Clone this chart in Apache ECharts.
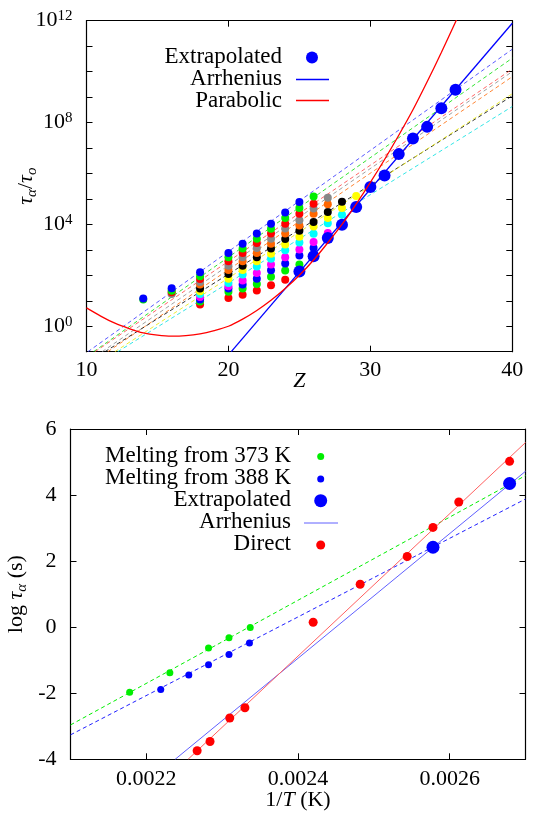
<!DOCTYPE html>
<html><head><meta charset="utf-8">
<script src="https://cdn.jsdelivr.net/npm/echarts@6/dist/echarts.min.js"></script>
<style>html,body{margin:0;padding:0;background:#fff}#c{width:535px;height:814px}</style>
</head><body><div id="c"></div>
<script>
// ===== Top panel: log10(tau_alpha/tau_o) versus Z =====
const ptsBlue    = [[14,1.09],[16,1.49],[18,2.12],[20,2.88],[21,3.24],[22,3.64],[23,4.03],[24,4.47],[25,4.88]];
const ptsGreen   = [[14,1.05],[16,1.39],[18,1.96],[20,2.71],[21,3.05],[22,3.44],[23,3.83],[24,4.25],[25,4.64],[26,5.10]];
const ptsRed     = [[16,1.33],[18,1.86],[20,2.55],[21,2.88],[22,3.27],[23,3.64],[24,4.03],[25,4.42],[26,4.81]];
const ptsGray    = [[16,1.27],[18,1.74],[20,2.38],[21,2.71],[22,3.07],[23,3.44],[24,3.84],[25,4.16],[26,4.62],[27,5.05]];
const ptsOrange  = [[18,1.64],[20,2.21],[21,2.55],[22,2.88],[23,3.24],[24,3.64],[25,3.96],[26,4.42],[27,4.79]];
const ptsBlack   = [[18,1.48],[20,2.05],[21,2.38],[22,2.71],[23,3.05],[24,3.43],[25,3.75],[26,4.09],[27,4.49],[28,4.89]];
const ptsYellow  = [[18,1.37],[20,1.87],[21,2.21],[22,2.55],[23,2.85],[24,3.21],[25,3.51],[26,3.92],[27,4.25],[28,4.64],[29,5.12]];
const ptsCyan    = [[18,1.27],[20,1.70],[21,2.03],[22,2.35],[23,2.65],[24,2.98],[25,3.29],[26,3.63],[27,4.04],[28,4.38]];
const ptsMagenta = [[18,1.15],[20,1.57],[21,1.80],[22,2.09],[23,2.42],[24,2.71],[25,3.01],[26,3.31],[27,3.66]];
const ptsBlue2   = [[18,1.05],[20,1.48],[21,1.64],[22,1.87],[23,2.20],[24,2.46],[25,2.78],[26,3.07]];
const ptsGreen2  = [[18,0.97],[20,1.35],[21,1.48],[22,1.66],[23,1.94],[24,2.19],[25,2.42]];
const ptsRed2    = [[18,0.85],[20,1.11],[21,1.24],[22,1.40],[23,1.61],[24,1.83]];

// dashed fit lines (read endpoints)
const fitBlue   = [[10.1,-1],[40,10.88]];
const fitGreen  = [[10.5,-1],[40,10.53]];
const fitRed    = [[10.6,-1],[40,10.10]];
const fitGray   = [[11.1,-1],[40,10.00]];
const fitOrange = [[11.5,-1],[40,9.80]];
const fitBlack  = [[11.3,-1],[40,9.05]];
const fitYellow = [[12.0,-1],[40,9.13]];
const fitCyan   = [[12.2,-1],[40,8.63]];

const extrapTop = [[25,2.15],[26,2.75],[27,3.47],[28,3.99],[29,4.68],[30,5.47],[31,5.92],[32,6.76],[33,7.37],[34,7.83],[35,8.56],[36,9.29]];
const arrhTop = [[20.2,-1],[40,11.9]];
const parabolicTop = [[10,0.72],[11,0.40],[12,0.12],[13,-0.09],[14,-0.26],[15,-0.35],[16,-0.39],[17,-0.37],[18,-0.30],[19,-0.17],[20,0.0],[21,0.28],[22,0.62],[23,1.02],[24,1.48],[25,2.0],[26,2.6],[27,3.28],[28,4.0],[29,4.8],[30,5.65],[31,6.55],[32,7.5],[33,8.5],[34,9.6],[35,10.75],[36,11.95],[36.5,12.55]];

const topXTicks = [10,20,30,40];
const topYLabelExps = [0,4,8,12];

// ===== Bottom panel: log tau_alpha versus 1/T =====
const melt373 = [[0.002178,-1.97],[0.002231,-1.38],[0.002282,-0.63],[0.002309,-0.32],[0.002337,-0.01]];
const melt388 = [[0.002219,-1.89],[0.002256,-1.45],[0.002282,-1.14],[0.002309,-0.83],[0.002336,-0.48]];
const direct  = [[0.002267,-3.74],[0.002284,-3.46],[0.002310,-2.75],[0.002330,-2.44],[0.002420,0.15],[0.002482,1.30],[0.002544,2.14],[0.002578,3.02],[0.002612,3.79],[0.002679,5.02]];
const extrapBottom = [[0.002578,2.42],[0.002679,4.35]];
const fit373 = [[0.0021,-2.96],[0.0027,4.59]];
const fit388 = [[0.0021,-3.26],[0.0027,3.88]];
const arrhBottom = [[0.002238,-4],[0.0027,4.72]];
const directFit = [[0.002255,-4],[0.0027,5.59]];

const bottomXTicks = [0.0022,0.0024,0.0026];
const bottomYTicks = [-4,-2,0,2,4,6];

// ===== styling =====
const FONT = '"Liberation Serif", "Times New Roman", serif';
const FS = 22;
const LFS = 23;
const richBase = {
  i:{fontFamily:FONT,fontStyle:'italic',fontSize:FS,lineHeight:26,color:'#000'},
  n:{fontFamily:FONT,fontSize:FS,lineHeight:26,color:'#000'},
  sub:{fontFamily:FONT,fontStyle:'italic',fontSize:15,lineHeight:14,verticalAlign:'bottom',color:'#000'}
};

const topPts = [
  [ptsRed2,'#ff0000'],[ptsGreen2,'#00ee00'],[ptsBlue2,'#0000ff'],[ptsMagenta,'#ff00ff'],
  [ptsCyan,'#00ffff'],[ptsYellow,'#ffff00'],[ptsBlack,'#000000'],[ptsOrange,'#ff6600'],
  [ptsGray,'#888888'],[ptsRed,'#ff0000'],[ptsGreen,'#00ee00'],[ptsBlue,'#0000ff']
];
const topFits = [
  [fitBlue,'#3030ff'],[fitGreen,'#00dd00'],[fitRed,'#ff4040'],[fitGray,'#888888'],
  [fitOrange,'#ff6600'],[fitBlack,'#000000'],[fitYellow,'#e8e800'],[fitCyan,'#00e0e0']
];

const axisLine = {show:true,onZero:false,lineStyle:{color:'#000',width:1.2}};
const tick = {show:true,inside:true,length:6,lineStyle:{color:'#000',width:1}};

const series = [];
topFits.forEach(([d,c])=>series.push({type:'line',xAxisIndex:0,yAxisIndex:0,data:d,symbol:'none',z:1,
  lineStyle:{color:c,width:1,type:[4,3],opacity:0.8}}));
topPts.forEach(([d,c])=>series.push({type:'scatter',xAxisIndex:0,yAxisIndex:0,data:d,symbol:'circle',symbolSize:8,z:2,
  itemStyle:{color:c,opacity:1}}));
series.push({type:'scatter',xAxisIndex:0,yAxisIndex:0,data:extrapTop,symbol:'circle',symbolSize:12,z:3,itemStyle:{color:'#0000ff',opacity:1}});
series.push({type:'line',xAxisIndex:0,yAxisIndex:0,data:arrhTop,symbol:'none',z:4,lineStyle:{color:'#0000ff',width:1.3}});
series.push({type:'line',xAxisIndex:0,yAxisIndex:0,data:parabolicTop,symbol:'none',smooth:0.3,z:4,lineStyle:{color:'#ff0000',width:1.3}});

series.push({type:'line',xAxisIndex:2,yAxisIndex:2,data:fit373,symbol:'none',z:1,lineStyle:{color:'#00ee00',width:1,type:[4,3]}});
series.push({type:'line',xAxisIndex:2,yAxisIndex:2,data:fit388,symbol:'none',z:1,lineStyle:{color:'#2020ff',width:1,type:[4,3]}});
series.push({type:'line',xAxisIndex:2,yAxisIndex:2,data:arrhBottom,symbol:'none',z:1,lineStyle:{color:'#6060ff',width:1}});
series.push({type:'line',xAxisIndex:2,yAxisIndex:2,data:directFit,symbol:'none',z:1,lineStyle:{color:'#ff6060',width:1}});
series.push({type:'scatter',xAxisIndex:2,yAxisIndex:2,data:melt373,symbol:'circle',symbolSize:7,z:2,itemStyle:{color:'#00ee00',opacity:1}});
series.push({type:'scatter',xAxisIndex:2,yAxisIndex:2,data:melt388,symbol:'circle',symbolSize:7,z:2,itemStyle:{color:'#0000ff',opacity:1}});
series.push({type:'scatter',xAxisIndex:2,yAxisIndex:2,data:direct,symbol:'circle',symbolSize:9,z:2,itemStyle:{color:'#ff0000',opacity:1}});
series.push({type:'scatter',xAxisIndex:2,yAxisIndex:2,data:extrapBottom,symbol:'circle',symbolSize:13,z:3,itemStyle:{color:'#0000ff',opacity:1}});

const labelStyle = {color:'#000',fontFamily:FONT,fontSize:FS};
const legendText = (t,x,y)=>({type:'text',style:{text:t,x:x,y:y,font:LFS+'px '+FONT,fill:'#000',textAlign:'right',textVerticalAlign:'middle'}});
const common = {type:'value',nameMoveOverlap:false,splitLine:{show:false},axisLine};

const option = {
  animation:false,
  backgroundColor:'#fff',
  grid:[
    {left:86.5,top:20.7,width:425.8,height:331,containLabel:false,outerBoundsMode:'none'},
    {left:70.5,top:429,width:455,height:330.3,containLabel:false,outerBoundsMode:'none'}
  ],
  xAxis:[
    {...common,gridIndex:0,min:10,max:40,interval:10,position:'bottom',axisTick:tick,
      axisLabel:{...labelStyle,margin:8,customValues:topXTicks},
      name:'{i|Z}',nameLocation:'middle',nameGap:17,nameTextStyle:{rich:richBase}},
    {...common,gridIndex:0,min:10,max:40,interval:10,position:'top',axisTick:tick,axisLabel:{show:false}},
    {...common,gridIndex:1,min:0.0021,max:0.0027,interval:0.0001,position:'bottom',
      axisTick:{...tick,customValues:bottomXTicks},
      axisLabel:{...labelStyle,margin:9,customValues:bottomXTicks,formatter:v=>v.toFixed(4)},
      name:'{n|1/}{i|T}{n| (K)}',nameLocation:'middle',nameGap:28,nameTextStyle:{rich:richBase}},
    {...common,gridIndex:1,min:0.0021,max:0.0027,interval:0.0001,position:'top',
      axisTick:{...tick,customValues:bottomXTicks},axisLabel:{show:false}}
  ],
  yAxis:[
    {...common,gridIndex:0,min:-1,max:12,interval:1,position:'left',axisTick:tick,
      axisLabel:{...labelStyle,margin:14,lineHeight:24,customValues:topYLabelExps,
        formatter:v=>'10{s|'+v+'}',
        rich:{s:{fontFamily:FONT,fontSize:15,lineHeight:12,verticalAlign:'top',color:'#000'}}},
      name:'{i|τ}{sub|α}{n|/}{i|τ}{sub|o}',nameLocation:'middle',nameGap:47,nameTextStyle:{rich:richBase}},
    {...common,gridIndex:0,min:-1,max:12,interval:1,position:'right',axisTick:tick,axisLabel:{show:false}},
    {...common,gridIndex:1,min:-4,max:6,interval:2,position:'left',axisTick:tick,
      axisLabel:{...labelStyle,margin:14,customValues:bottomYTicks},
      name:'{n|log }{i|τ}{sub|α}{n| (s)}',nameLocation:'middle',nameGap:41,nameTextStyle:{rich:richBase}},
    {...common,gridIndex:1,min:-4,max:6,interval:2,position:'right',axisTick:tick,axisLabel:{show:false}}
  ],
  series,
  graphic:[
    // top legend
    legendText('Extrapolated',282,57),
    {type:'circle',shape:{cx:312,cy:57.5,r:6},style:{fill:'#0000ff'}},
    legendText('Arrhenius',282,79),
    {type:'line',shape:{x1:296,y1:79.5,x2:329,y2:79.5},style:{stroke:'#0000ff',lineWidth:1.3}},
    legendText('Parabolic',282,100.5),
    {type:'line',shape:{x1:296,y1:100.5,x2:329,y2:100.5},style:{stroke:'#ff0000',lineWidth:1.3}},
    // bottom legend
    legendText('Melting from 373 K',291,456),
    {type:'circle',shape:{cx:320.7,cy:456.5,r:3.5},style:{fill:'#00ee00'}},
    legendText('Melting from 388 K',291,478),
    {type:'circle',shape:{cx:320.7,cy:479,r:3.5},style:{fill:'#0000ff'}},
    legendText('Extrapolated',291,500),
    {type:'circle',shape:{cx:320.7,cy:500.7,r:6.5},style:{fill:'#0000ff'}},
    legendText('Arrhenius',291,522),
    {type:'line',shape:{x1:304,y1:523,x2:338,y2:523},style:{stroke:'#6060ff',lineWidth:1}},
    legendText('Direct',291,544),
    {type:'circle',shape:{cx:320.7,cy:545,r:4.5},style:{fill:'#ff0000'}}
  ]
};
const chart = echarts.init(document.getElementById('c'));
chart.setOption(option);
</script></body></html>
